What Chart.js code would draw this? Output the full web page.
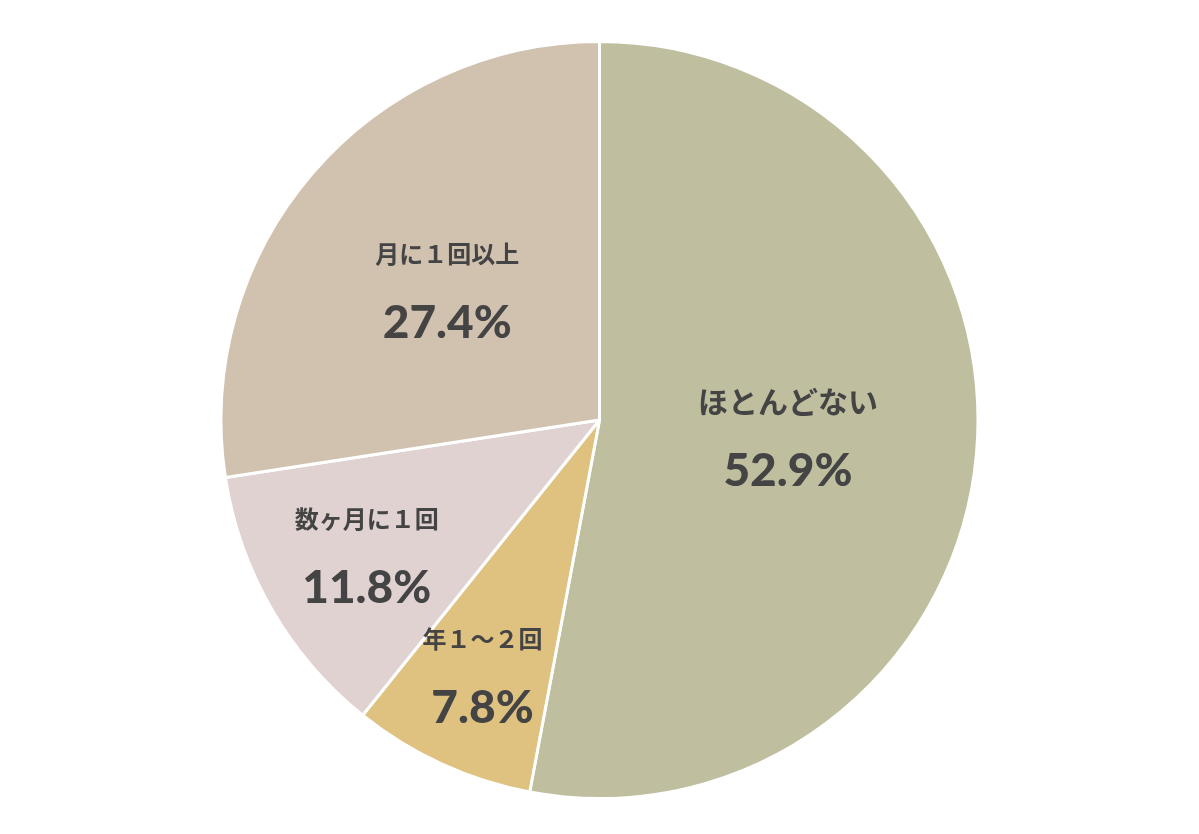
<!DOCTYPE html>
<html><head><meta charset="utf-8">
<script src="https://cdn.jsdelivr.net/npm/chart.js@4"></script>
<style>html,body{margin:0;background:#fff}#wrap{width:1199px;height:834px}</style>
</head><body><div id="wrap"><canvas id="c"></canvas></div>
<script>
const labels = ['ほとんどない', '年１～２回', '数ヶ月に１回', '月に１回以上'];
const values = [52.9, 7.8, 11.8, 27.4];
const colors = ['#bfbfa0', '#dfc180', '#e1d2d2', '#d1c2b0'];
const labelRadius = [0.5, 0.74, 0.71, 0.53];
const labelSize = [30, 24, 24, 24];
const pctSize = [46, 46, 46, 46];

const labelPlugin = {
  id: 'sliceLabels',
  afterDatasetsDraw(chart) {
    const ctx = chart.ctx;
    chart.getDatasetMeta(0).data.forEach((arc, i) => {
      const mid = (arc.startAngle + arc.endAngle) / 2;
      const r = arc.outerRadius * labelRadius[i];
      const x = arc.x + Math.cos(mid) * r;
      const y = arc.y + Math.sin(mid) * r;
      ctx.save();
      ctx.fillStyle = '#444';
      ctx.textAlign = 'center';
      ctx.textBaseline = 'middle';
      ctx.font = `bold ${labelSize[i]}px Lato, "Noto Sans CJK JP"`;
      ctx.fillText(labels[i], x, y - 34);
      ctx.font = `900 ${pctSize[i]}px Lato, "Noto Sans CJK JP"`;
      ctx.fillText(values[i].toFixed(1) + '%', x, y + 34);
      ctx.restore();
    });
  }
};

new Chart('c', {
  type: 'pie',
  data: { labels, datasets: [{ data: values, backgroundColor: colors, borderColor: '#fff', borderWidth: 3 }] },
  options: {
    responsive: true, maintainAspectRatio: false, animation: false,
    layout: { padding: { top: 40, bottom: 34 } },
    plugins: { legend: { display: false }, tooltip: { enabled: false } }
  },
  plugins: [labelPlugin]
});
</script></body></html>
